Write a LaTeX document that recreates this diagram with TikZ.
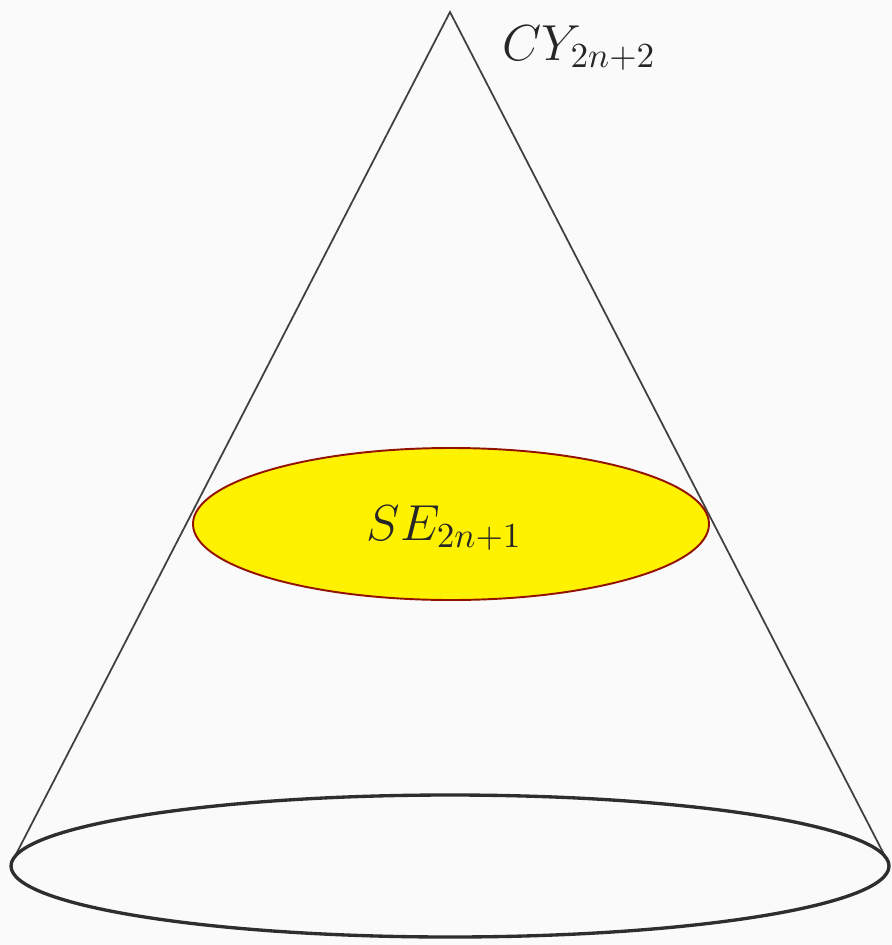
\documentclass[tikz,border=0pt]{standalone}
\begin{document}
\begin{tikzpicture}[x=0.01cm,y=-0.01cm,
  coneline/.style={draw=black!75,line width=0.5pt},
  baseell/.style={draw=black!82,line width=0.95pt},
  secell/.style={draw=red!50!black!85!orange,line width=0.55pt,fill=yellow},
  lab/.style={font=\fontsize{14.5}{17}\selectfont,text=black!85,inner sep=0pt}]
\fill[black!2] (0,0) rectangle (892,945);
\useasboundingbox (0,0) rectangle (892,945);
\coordinate (apex) at (450,12);
\coordinate (bl) at (11,864);
\coordinate (br) at (889,864);
\draw[coneline] (bl) -- (apex) -- (br);
\draw[baseell] (450,866) ellipse [x radius=439, y radius=71];
\draw[secell] (451,524) ellipse [x radius=258, y radius=76];
\node[lab,anchor=base west] (cy) at (502,60) {$CY_{2n+2}$};
\node[lab,anchor=base west] (se) at (366,540) {$SE_{2n+1}$};
\end{tikzpicture}
\end{document}
